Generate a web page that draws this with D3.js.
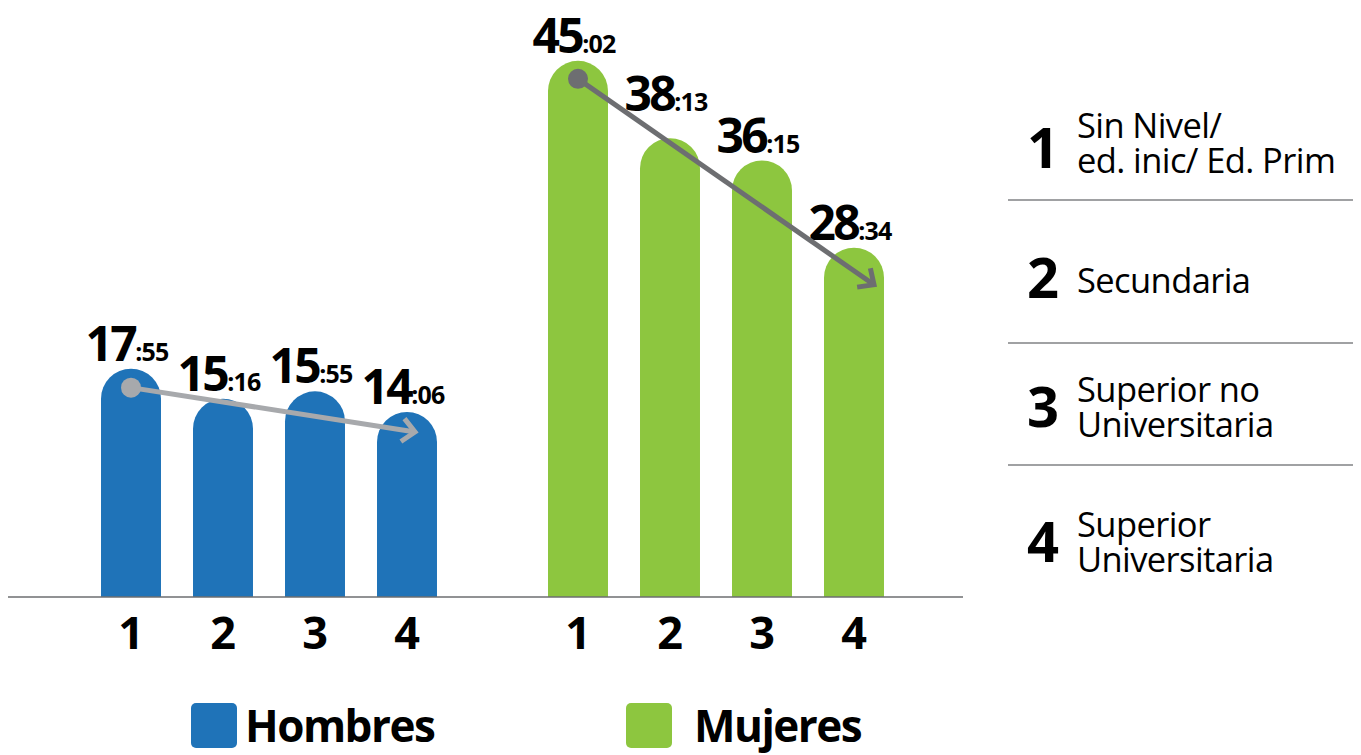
<!DOCTYPE html>
<html><head><meta charset="utf-8">
<script src="https://cdn.jsdelivr.net/npm/d3@7"></script>
<style>
html,body{margin:0;padding:0;background:#fff;}
svg{display:block;font-family:"Open Sans",sans-serif;}
</style></head>
<body>
<svg id="chart" width="1361" height="755"></svg>
<script>
// ---- data ----
const categories = ["1", "2", "3", "4"];
const groups = ["Hombres", "Mujeres"];
const hombresLabels = ["17:55", "15:16", "15:55", "14:06"];
const mujeresLabels = ["45:02", "38:13", "36:15", "28:34"];
const levelNames = [
  ["Sin Nivel/", "ed. inic/ Ed. Prim"],
  ["Secundaria"],
  ["Superior no", "Universitaria"],
  ["Superior", "Universitaria"]
];

const toHours = s => { const [h, m] = s.split(":").map(Number); return h + m / 60; };
const series = [
  { name: groups[0], labels: hombresLabels, values: hombresLabels.map(toHours) },
  { name: groups[1], labels: mujeresLabels, values: mujeresLabels.map(toHours) }
];

// ---- styles / layout ----
const colors = { Hombres: "#1f73b8", Mujeres: "#8dc63f" };
const arrowColors = { Hombres: "#a7a9ac", Mujeres: "#6d6e71" };
const baseline = 597;
const svg = d3.select("#chart");

const y = d3.scaleLinear().domain([0, 50]).range([572, 4.5]);
const xGroup = d3.scaleOrdinal().domain(groups).range([85, 532]);
const x = d3.scaleBand().domain(categories).range([0, 368]).paddingInner(0.348).paddingOuter(0.174);
const bw = x.bandwidth();
const r = bw / 2;

function barPath(x0, top) {
  return `M${x0},${baseline}V${top + r}A${r},${r} 0 0 1 ${x0 + bw},${top + r}V${baseline}Z`;
}

// bars
series.forEach(s => {
  const g = svg.append("g");
  g.selectAll("path.bar").data(s.values).join("path")
    .attr("class", "bar")
    .attr("d", (v, i) => barPath(xGroup(s.name) + x(categories[i]), y(v)))
    .attr("fill", colors[s.name]);
});

// axis line
svg.append("line").attr("x1", 8).attr("x2", 963).attr("y1", baseline).attr("y2", baseline)
  .attr("stroke", "#6d6e71").attr("stroke-width", 1.6);

// category tick labels via d3 axis
series.forEach(s => {
  const ax = d3.scaleBand().domain(categories)
    .range([xGroup(s.name), xGroup(s.name) + 368]).paddingInner(0.348).paddingOuter(0.174);
  const g = svg.append("g").attr("transform", `translate(0,${baseline})`)
    .call(d3.axisBottom(ax).tickSize(0).tickPadding(0));
  g.select(".domain").remove();
  g.selectAll("text").attr("dy", null).attr("y", 52)
    .attr("font-family", "Open Sans").attr("font-weight", 700)
    .attr("font-size", 45).attr("fill", "#000");
});

// value labels
const extraLift = { Hombres: [0, 0, 0, 0], Mujeres: [0, 19, 0, 0] };
series.forEach(s => {
  s.labels.forEach((lab, i) => {
    const [h, m] = lab.split(":");
    const cx = xGroup(s.name) + x(categories[i]) + bw / 2 - 4;
    const t = svg.append("text").attr("x", cx).attr("y", y(s.values[i]) - 8 - extraLift[s.name][i])
      .attr("text-anchor", "middle").attr("font-weight", 700).attr("fill", "#000");
    t.append("tspan").attr("font-size", 48).attr("letter-spacing", -2.5).text(h);
    t.append("tspan").attr("font-size", 25).attr("letter-spacing", -0.8).text(":" + m);
  });
});

// trend arrows
const arrowEnds = {
  Hombres: { s: [0, 19], e: [8, 20] },
  Mujeres: { s: [0, 18], e: [20, 37] }
};
series.forEach(s => {
  const n = s.values.length - 1;
  const c0 = xGroup(s.name) + x(categories[0]) + bw / 2;
  const c1 = xGroup(s.name) + x(categories[n]) + bw / 2;
  const p0 = [c0 + arrowEnds[s.name].s[0], y(s.values[0]) + arrowEnds[s.name].s[1]];
  const p1 = [c1 + arrowEnds[s.name].e[0], y(s.values[n]) + arrowEnds[s.name].e[1]];
  const col = arrowColors[s.name];
  const ang = Math.atan2(p1[1] - p0[1], p1[0] - p0[0]);
  const L = 17, spread = Math.PI / 4.2;
  const a1 = [p1[0] - L * Math.cos(ang - spread), p1[1] - L * Math.sin(ang - spread)];
  const a2 = [p1[0] - L * Math.cos(ang + spread), p1[1] - L * Math.sin(ang + spread)];
  const back = [p1[0] - 3 * Math.cos(ang), p1[1] - 3 * Math.sin(ang)];
  svg.append("line").attr("x1", p0[0]).attr("y1", p0[1]).attr("x2", back[0]).attr("y2", back[1])
    .attr("stroke", col).attr("stroke-width", 5);
  svg.append("path").attr("d", `M${a1[0]},${a1[1]}L${p1[0]},${p1[1]}L${a2[0]},${a2[1]}`)
    .attr("fill", "none").attr("stroke", col).attr("stroke-width", 5).attr("stroke-linejoin", "miter");
  svg.append("circle").attr("cx", p0[0]).attr("cy", p0[1]).attr("r", 10).attr("fill", col);
});

// right-hand category key
const keyNumY = [168, 298, 427, 562];
const keyLineY = [138, 293, 402, 537];
const keyLead = 35;
const key = svg.append("g");
categories.forEach((c, i) => {
  key.append("text").attr("x", 1043).attr("y", keyNumY[i]).attr("text-anchor", "middle")
    .attr("font-weight", 700).attr("font-size", 56).attr("fill", "#000").text(c);
  const t = key.append("text").attr("x", 1077).attr("y", keyLineY[i])
    .attr("font-size", 34.5).attr("fill", "#000").attr("letter-spacing", -0.6);
  levelNames[i].forEach((ln, j) => {
    t.append("tspan").attr("x", 1077).attr("dy", j === 0 ? 0 : keyLead).text(ln);
  });
});
[200, 343, 465].forEach(yy => {
  key.append("line").attr("x1", 1008).attr("x2", 1353).attr("y1", yy).attr("y2", yy)
    .attr("stroke", "#808285").attr("stroke-width", 1.5);
});

// bottom legend
const legX = { Hombres: 191, Mujeres: 626 };
groups.forEach(gname => {
  svg.append("rect").attr("x", legX[gname]).attr("y", 703).attr("width", 46).attr("height", 45)
    .attr("rx", 5).attr("fill", colors[gname]);
  svg.append("text").attr("x", legX[gname] + (gname === "Hombres" ? 54 : 68)).attr("y", 742)
    .attr("font-weight", 700).attr("font-size", 44).attr("letter-spacing", -1.5)
    .attr("fill", "#000").text(gname);
});
</script>
</body></html>
